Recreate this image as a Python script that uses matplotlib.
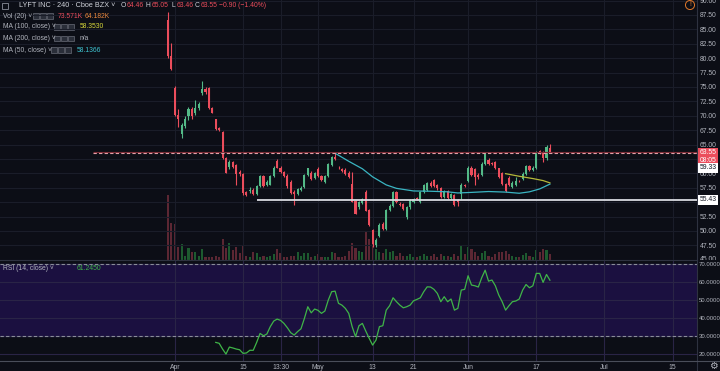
import matplotlib
matplotlib.use("Agg")
import matplotlib.pyplot as plt
import matplotlib.transforms as mtransforms
from matplotlib.lines import Line2D
from matplotlib.patches import Rectangle
import numpy as np

# --- LYFT INC, 240-minute bars ---------------------------------------------
bar_open = [86.7, 80.4, 74.9, 70.2, 66.8, 68.2, 70.0, 71.2, 70.5, 71.4,
            73.9, 74.6, 74.8, 71.3, 69.4, 67.8, 67.1, 62.6, 61.1, 61.9,
            61.5, 60.2, 59.9, 56.8, 57.0, 57.2, 56.45, 57.8, 59.6, 58.0,
            58.0, 59.6, 62.2, 61.0, 60.3, 59.6, 58.5, 56.85, 56.45, 57.2,
            57.6, 59.7, 60.0, 59.2, 60.7, 59.6, 58.5, 59.6, 61.5, 62.9,
            61.0, 60.7, 60.55, 60.15, 58.1, 55.2, 54.1, 54.9, 56.8, 53.6,
            50.1, 47.5, 49.2, 51.2, 50.3, 53.6, 54.3, 56.8, 54.75, 54.65,
            52.45, 54.1, 55.05, 55.75, 55.05, 56.8, 57.1, 58.35, 58.8, 57.9,
            57.4, 55.9, 56.95, 55.8, 56.2, 55.3, 56.5, 57.95, 58.7, 61.0,
            60.7, 59.7, 59.7, 61.7, 62.4, 61.8, 62.0, 60.85, 60.0, 58.24,
            59.2, 57.65, 57.95, 58.7, 59.1, 59.97, 61.25, 60.55, 60.85, 63.85,
            63.7, 62.6, 64.46]
bar_high = [88.0, 82.7, 75.1, 71.1, 68.7, 69.9, 71.6, 71.5, 72.8, 72.4,
            76.1, 75.0, 75.0, 71.5, 69.5, 68.1, 67.3, 62.9, 62.3, 62.1,
            61.6, 60.6, 60.0, 57.0, 57.7, 57.5, 58.0, 59.8, 59.8, 58.8,
            59.8, 61.2, 62.5, 61.3, 60.5, 59.9, 58.8, 57.1, 57.5, 57.8,
            59.9, 61.0, 60.5, 60.2, 61.1, 59.8, 59.8, 61.8, 63.0, 63.6,
            61.3, 61.0, 60.9, 60.4, 60.2, 55.4, 55.2, 55.7, 57.1, 53.9,
            50.4, 48.7, 51.3, 51.5, 53.8, 54.6, 57.0, 57.0, 55.0, 54.9,
            54.3, 55.6, 55.8, 55.9, 57.0, 58.1, 58.5, 58.7, 59.0, 58.1,
            57.6, 57.1, 57.2, 56.6, 56.4, 55.5, 58.3, 58.1, 61.2, 61.2,
            61.0, 60.0, 61.9, 63.7, 62.7, 62.0, 62.2, 61.0, 60.2, 58.4,
            59.5, 58.6, 59.3, 58.8, 60.2, 61.4, 61.5, 61.2, 63.9, 64.0,
            63.9, 65.0, 65.05]
bar_low = [80.0, 78.0, 69.9, 68.0, 66.2, 67.8, 69.2, 69.4, 70.2, 71.0,
           73.6, 73.8, 71.2, 70.4, 67.6, 67.3, 62.5, 60.1, 60.8, 60.9,
           57.95, 59.6, 56.3, 56.1, 56.6, 56.3, 56.2, 57.6, 57.6, 57.8,
           57.9, 59.4, 60.9, 60.1, 59.4, 57.5, 56.4, 54.5, 56.2, 57.0,
           57.4, 59.5, 58.8, 59.0, 59.3, 58.7, 58.3, 59.4, 61.3, 62.4,
           60.7, 60.3, 59.7, 59.2, 55.0, 52.9, 53.8, 54.6, 53.4, 50.9,
           47.2, 47.2, 48.9, 50.1, 50.1, 53.4, 54.1, 54.9, 54.3, 53.7,
           52.1, 53.9, 54.9, 55.4, 54.9, 56.6, 56.9, 57.6, 57.6, 57.2,
           55.7, 55.7, 55.6, 55.6, 54.3, 54.3, 55.5, 57.6, 58.5, 59.5,
           58.0, 59.1, 59.5, 61.5, 61.4, 61.4, 60.7, 59.2, 58.0, 56.7,
           57.8, 57.5, 57.8, 58.5, 58.9, 59.8, 60.4, 60.4, 60.7, 63.4,
           61.9, 62.4, 63.46]
bar_close = [80.4, 78.2, 70.2, 69.4, 68.4, 69.4, 71.2, 70.0, 71.4, 72.1,
             74.6, 74.2, 71.3, 70.5, 67.7, 67.5, 62.6, 60.15, 61.9, 61.1,
             59.9, 59.9, 56.6, 56.3, 57.2, 56.45, 57.8, 59.6, 57.8, 58.5,
             59.6, 61.0, 61.0, 60.3, 59.5, 57.8, 56.6, 56.45, 57.25, 57.5,
             59.7, 60.85, 59.1, 60.0, 59.5, 58.9, 59.6, 61.6, 62.8, 62.55,
             60.85, 60.45, 59.95, 59.4, 55.05, 53.0, 55.0, 55.5, 53.5, 51.0,
             47.7, 48.4, 51.1, 50.3, 53.6, 54.3, 56.8, 55.05, 54.5, 53.9,
             54.1, 55.35, 55.6, 55.5, 56.8, 57.9, 58.35, 57.8, 57.8, 57.4,
             55.9, 56.95, 55.8, 56.4, 54.5, 55.05, 57.95, 57.8, 61.0, 59.7,
             59.4, 59.3, 61.7, 63.45, 61.6, 61.6, 60.85, 59.4, 58.24, 56.9,
             57.95, 58.35, 58.65, 58.6, 59.97, 61.25, 60.55, 61.0, 63.7, 63.6,
             62.6, 64.6, 63.55]
volume_m = [70, 39, 38.5, 14, 17, 4.3, 12.6, 7.9, 7.9, 4.3,
            11.2, 3.2, 3.2, 3.2, 4.3, 2.5, 22.3, 12.6, 18, 10.4,
            13.3, 7.2, 15.1, 3.6, 2.5, 7.9, 6.8, 3.2, 3.6, 2.5,
            3.6, 6.1, 11.2, 6.8, 3.2, 3.2, 4.3, 3.6, 7.9, 4.3,
            7.2, 6.8, 3.2, 4.3, 6.1, 3.2, 2.5, 3.2, 7.9, 6.8,
            3.2, 2.5, 4.3, 9.0, 18, 12.6, 9.7, 7.6, 31, 22.7,
            28, 11.9, 7.6, 6.5, 11.9, 7.6, 9.7, 4.3, 6.5, 4.3,
            4.3, 6.1, 3.2, 3.2, 4.3, 6.1, 4.3, 4.3, 6.1, 3.2,
            6.1, 4.3, 4.3, 3.2, 6.1, 4.3, 15.1, 6.1, 14, 11.6,
            7.9, 4.3, 6.8, 9.7, 4.3, 3.2, 6.1, 7.9, 7.9, 9.7,
            6.1, 4.3, 3.2, 2.5, 5.1, 6.8, 4.3, 3.2, 10.5, 7.9,
            11.6, 10.5, 6.1]

# RSI(14) starts on bar 15
rsi_start = 15
rsi_values = [26.5, 26.0, 22.8, 20.0, 23.9, 23.4, 22.8, 22.4, 20.4, 20.6,
              22.1, 22.1, 26.5, 31.5, 30.2, 31.2, 35.3, 38.4, 39.5, 38.8,
              37.1, 34.7, 31.9, 30.6, 32.5, 34.1, 39.9, 46.4, 43.0, 45.1,
              44.4, 42.7, 44.0, 50.1, 54.8, 55.1, 48.3, 47.3, 45.5, 42.7,
              35.3, 29.7, 35.8, 37.1, 32.8, 28.8, 25.0, 27.8, 35.3, 35.8,
              44.5, 47.0, 51.4, 49.2, 47.3, 45.8, 46.4, 47.3, 49.7, 50.5,
              51.4, 54.8, 57.5, 57.4, 56.1, 53.8, 49.2, 52.0, 49.2, 50.7,
              44.5, 45.5, 55.7, 56.1, 63.7, 58.5, 58.1, 57.4, 62.6, 66.8,
              60.7, 61.3, 58.1, 52.9, 49.2, 44.5, 47.0, 49.2, 49.6, 50.7,
              55.7, 58.8, 57.0, 58.1, 65.0, 65.0, 60.0, 64.4, 61.2]

ma50_bars = [50, 54, 58, 61, 65, 68, 73, 78, 83, 86, 90, 95, 100, 104, 107, 110, 113]
ma50_values = [63.5, 62.1, 60.8, 59.4, 58.0, 57.4, 56.95, 56.9, 56.8, 56.6,
               56.7, 56.85, 56.75, 56.55, 56.8, 57.3, 58.14]
ma100_bars = [100, 104, 108, 111, 113]
ma100_values = [59.95, 59.5, 59.1, 58.75, 58.35]

tick_bars = [3, 23, 34, 45, 61, 73, 89, 109, 129, 149]
tick_labels = ["Apr", "15", "13:30", "May", "13", "21", "Jun", "17", "Jul", "15"]

# price-scale labels; 62.50 and 55.00 sit under the marker boxes
price_ticks = [47.5, 50, 52.5, 57.5, 60, 65, 67.5, 70, 72.5, 75, 77.5,
               80, 82.5, 85, 87.5, 90]
grid_prices = np.arange(45, 90.1, 2.5)
rsi_ticks = [20, 30, 40, 50, 60, 70]

last_price = 63.55
support_level = 55.43
support_from_bar = 27
price_line_from_bar = -21

# --- colours ---------------------------------------------------------------
BG = "#0c0e16"
GRID = "#1a1d29"
TXT = "#b2b5be"
UP = "#53b987"
DOWN = "#eb4d5c"
VOL_UP = "#1d5a2f"
VOL_DOWN = "#5c2733"
CYAN = "#3ab5c2"
YELLOW = "#b5b83a"
RSI_GREEN = "#3fb548"
PURPLE = "#1b1040"

W, H = 720, 371
FS = 4.9
plt.rcParams["font.family"] = ["Liberation Sans", "DejaVu Sans"]

fig = plt.figure(figsize=(W / 100, H / 100), dpi=100, facecolor=BG)


def frac(x, y):
    return x / W, 1 - y / H


x_left = 1 - 168 / 3.41
x_right = 1 + 529 / 3.41

main_rect = [0, 1 - 259.5 / H, 697 / W, 259.5 / H]
ax_vol = fig.add_axes(main_rect, zorder=1)
ax = fig.add_axes(main_rect, zorder=2)
ax_rsi = fig.add_axes([0, 1 - 360.5 / H, 697 / W, 100 / H], zorder=1)

# volume underlay
bars = np.arange(1, len(bar_open) + 1)
o, hi, lo, c = (np.array(v) for v in (bar_open, bar_high, bar_low, bar_close))
up = c >= o
ax_vol.set_facecolor(BG)
ax_vol.bar(bars, volume_m, width=0.62, color=np.where(up, VOL_UP, VOL_DOWN), linewidth=0)
ax_vol.set_ylim(0, 70 * 259.5 / 64.7)
ax_vol.set_xlim(x_left, x_right)
ax_vol.axis("off")

# price pane
ax.set_facecolor("none")
ax.set_xlim(x_left, x_right)
ax.set_ylim(45.05, 90.1)
ax.set_yticks(price_ticks)
ax.set_yticklabels([f"{v:.2f}" for v in price_ticks])
ax.set_xticks(tick_bars)
ax.set_xticklabels([])
ax.yaxis.tick_right()
ax.tick_params(axis="both", length=0, labelsize=FS, labelcolor=TXT, pad=2)
ax.grid(True, axis="x", color=GRID, lw=0.8)
for p in grid_prices:
    ax.axhline(p, color=GRID, lw=0.8, zorder=0)
for s in ax.spines.values():
    s.set_visible(False)
ax.set_axisbelow(True)

colors = np.where(up, UP, DOWN)
ax.vlines(bars, lo, hi, colors=colors, linewidth=0.8, zorder=3)
ax.bar(bars, np.maximum(np.abs(c - o), 0.15), bottom=np.minimum(o, c),
       width=0.62, color=colors, linewidth=0, zorder=4)

ax.plot(ma50_bars, ma50_values, color=CYAN, lw=0.9, zorder=5)
ax.plot(ma100_bars, ma100_values, color=YELLOW, lw=0.9, zorder=5)

ax.hlines(support_level, support_from_bar, x_right, color="#d8dae0", lw=1.3, zorder=5)
ax.hlines(last_price + 0.12, price_line_from_bar, x_right, color="#7a2a35", lw=0.8, zorder=5)
ax.hlines(last_price, price_line_from_bar, x_right, color="#e3a0a8", lw=0.8,
          linestyles=(0, (3, 2)), zorder=5)

# label boxes on the price scale
tr = mtransforms.blended_transform_factory(ax.transAxes, ax.transData)
box = dict(boxstyle="square,pad=0.25", ec="none")
for val, text, fc, tc in [(last_price, f"{last_price:.2f}", DOWN, "white"),
                          (62.2, "08:05", DOWN, "white"),
                          (60.95, "59.33", "white", "#131722"),
                          (support_level, f"{support_level:.2f}", "white", "#131722")]:
    ax.text(1.004, val, text, transform=tr, fontsize=FS, color=tc, va="center",
            ha="left", bbox=dict(box, fc=fc), zorder=10, clip_on=False)

# the 45.00 label is cut in half by the RSI pane
t45 = ax.text(1.004, 45, "45.00", transform=tr, fontsize=FS, color=TXT,
              va="center", ha="left")
t45.set_clip_box(mtransforms.Bbox.from_extents(697, H - 259.5, W, H))
t45.set_clip_on(True)

# RSI pane
ax_rsi.set_facecolor(BG)
ax_rsi.set_xlim(x_left, x_right)
ax_rsi.set_ylim(16.4, 72.2)
ax_rsi.axhspan(30, 70, color=PURPLE, zorder=0)
ax_rsi.set_yticks(rsi_ticks)
ax_rsi.set_yticklabels([f"{v:.4f}" for v in rsi_ticks])
ax_rsi.set_xticks(tick_bars)
ax_rsi.set_xticklabels(tick_labels)
ax_rsi.yaxis.tick_right()
ax_rsi.tick_params(axis="y", length=0, labelsize=4.3, labelcolor=TXT, pad=1.5)
ax_rsi.tick_params(axis="x", length=0, labelsize=FS, labelcolor=TXT, pad=2.5)
ax_rsi.grid(True, color="#2a2446", lw=0.8)
ax_rsi.set_axisbelow(True)
for s in ax_rsi.spines.values():
    s.set_visible(False)
for level in (70, 30):
    ax_rsi.axhline(level, color="#8a8d99", lw=0.8, ls=(0, (3, 2)), zorder=2)
ax_rsi.plot(np.arange(rsi_start, rsi_start + len(rsi_values)), rsi_values,
            color=RSI_GREEN, lw=0.9, zorder=3)

# pane separators
for (x0, y0, x1, y1, col) in [(697, 0, 697, 371, "#2e3240"),
                              (0, 260, 697, 260, "#2e3240"),
                              (0, 360.5, 720, 360.5, "#4a4e5a")]:
    fig.add_artist(Line2D([x0 / W, x1 / W], [1 - y0 / H, 1 - y1 / H], color=col, lw=0.8))


# --- legend rows -----------------------------------------------------------
def label(x, y, s, color=TXT, size=FS):
    fig.text(*frac(x, y), s, color=color, fontsize=size, va="center", ha="left")


def icons(x, y):
    for k in range(3):
        fig.add_artist(Rectangle(frac(x + 7 * k, y + 2.8), 5.5 / W, 5.5 / H,
                                 fc="#2a2e39", ec="#6a6d78", lw=0.5))


fig.add_artist(Rectangle(frac(2, 8.5), 6 / W, 6 / H, fc="none", ec="#8a8d99", lw=0.6))
label(19, 5.5, "LYFT INC · 240 · Cboe BZX ˅", "#d1d4dc", 5.2)
for x, letter, val in [(121, "O", "64.46"), (146, "H", "65.05"),
                       (171, "L", "63.46"), (195, "C", "63.55")]:
    label(x, 5.5, letter, "#d1d4dc")
    label(x + 5.3, 5.5, val, DOWN)
label(219, 5.5, "−0.90 (−1.40%)", DOWN)

label(3, 16, "Vol (20) ˅")
icons(33, 16)
label(58, 16, "73.571K", DOWN)
label(85, 16, "64.182K", "#e8873c")

label(3, 27, "MA (100, close) ˅")
icons(54, 27)
label(80, 27, "58.3530", "#d6d63a")

label(3, 38.5, "MA (200, close) ˅")
icons(54, 38.5)
label(80, 38.5, "n/a")

label(3, 50, "MA (50, close) ˅")
icons(51, 50)
label(77, 50, "58.1366", "#3fc3d0")

label(3, 268, "RSI (14, close) ˅")
icons(52, 268)
label(77, 268, "61.2450", RSI_GREEN)

# small icons on the right edge
fig.text(*frac(690, 5), "!", color="#e0782a", fontsize=5, ha="center", va="center",
         bbox=dict(boxstyle="circle,pad=0.15", fc="none", ec="#e0782a", lw=0.7))
fig.text(*frac(713, 366), "⚙", color=TXT, fontsize=7, ha="center", va="center",
         family="DejaVu Sans")

fig.savefig("out.png", dpi=100, facecolor=BG)
